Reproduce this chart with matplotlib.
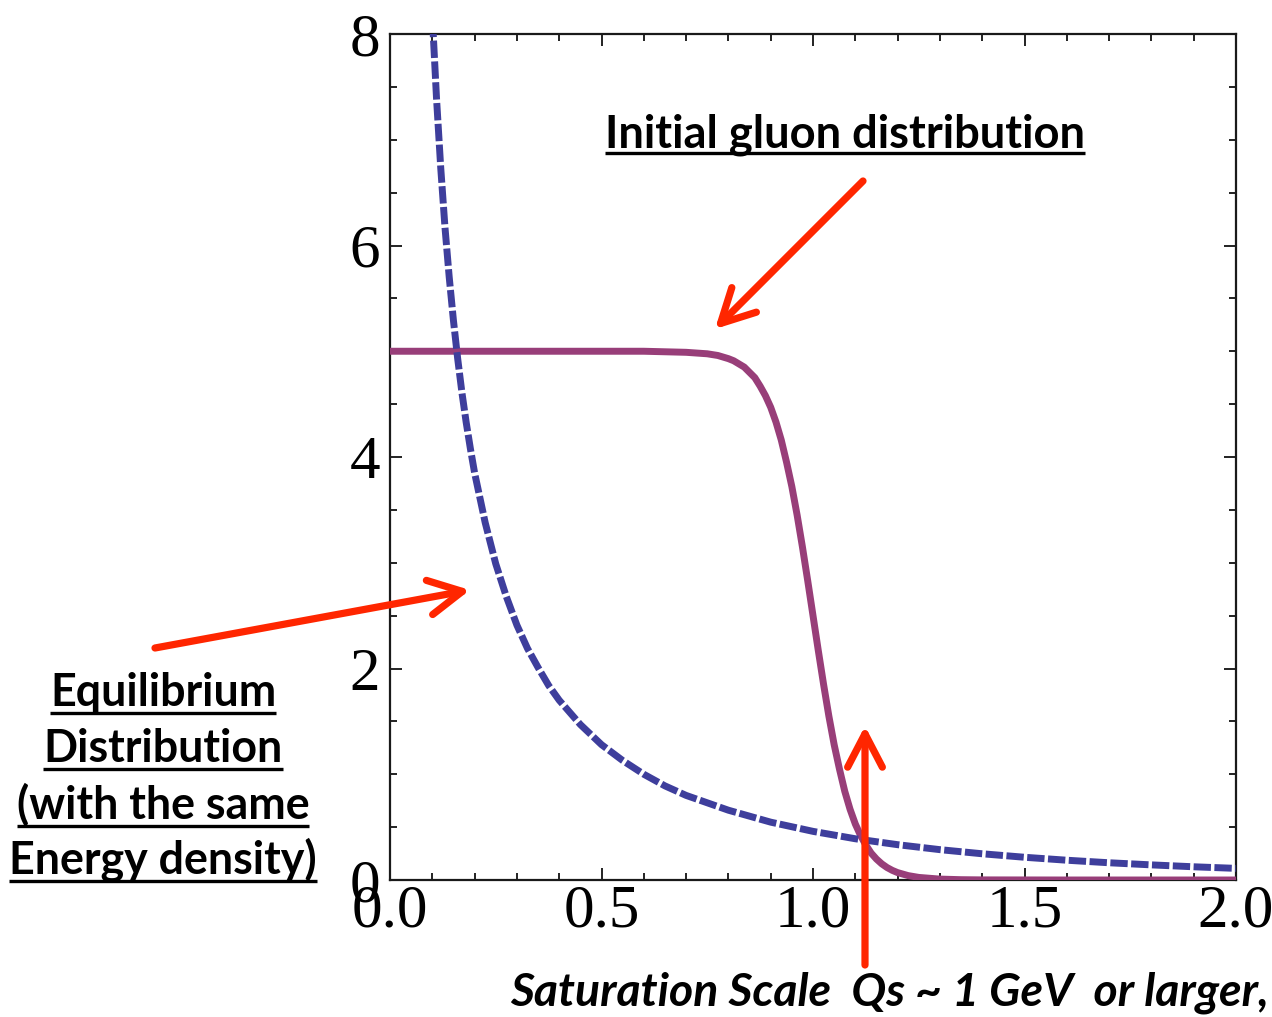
import matplotlib
matplotlib.use("Agg")
import matplotlib.pyplot as plt
from matplotlib.patches import FancyArrowPatch, ArrowStyle
from matplotlib.lines import Line2D
from matplotlib.ticker import MultipleLocator

# initial (saturated) gluon distribution
k_init = [0.0, 0.2, 0.4, 0.6, 0.7, 0.75, 0.775, 0.8, 0.8125, 0.825, 0.8375, 0.85, 0.8625,
          0.875, 0.8875, 0.9, 0.9125, 0.925, 0.9375, 0.95, 0.9625, 0.975, 0.9875, 1.0,
          1.0125, 1.025, 1.0375, 1.05, 1.0625, 1.075, 1.0875, 1.1, 1.1125, 1.125, 1.1375,
          1.15, 1.1625, 1.175, 1.1875, 1.2, 1.225, 1.25, 1.3, 1.35, 1.4, 1.6, 2.0]
f_init = [5.0, 5.0, 5.0, 5.0, 4.99, 4.976, 4.96, 4.93, 4.91, 4.88, 4.85, 4.80, 4.75,
          4.67, 4.58, 4.47, 4.33, 4.16, 3.95, 3.72, 3.45, 3.15, 2.83, 2.50,
          2.17, 1.85, 1.55, 1.28, 1.05, 0.84, 0.67, 0.53, 0.42, 0.33, 0.254,
          0.198, 0.153, 0.118, 0.091, 0.070, 0.0415, 0.0245, 0.0085, 0.003, 0.001, 0.0, 0.0]

# equilibrium distribution with the same energy density
k_eq = [0.09, 0.1, 0.11, 0.12, 0.13, 0.14, 0.15, 0.16, 0.17, 0.18, 0.19, 0.2, 0.225, 0.25,
        0.275, 0.3, 0.325, 0.35, 0.375, 0.4, 0.45, 0.5, 0.55, 0.6, 0.65, 0.7, 0.8, 0.9, 1.0,
        1.1, 1.2, 1.3, 1.4, 1.5, 1.6, 1.7, 1.8, 1.9, 2.0]
f_eq = [9.13, 8.17, 7.39, 6.73, 6.17, 5.70, 5.29, 4.93, 4.61, 4.33, 4.08, 3.85, 3.38, 2.99,
        2.68, 2.41, 2.19, 2.01, 1.84, 1.70, 1.47, 1.28, 1.13, 1.00, 0.89, 0.80, 0.66, 0.547,
        0.46, 0.39, 0.334, 0.287, 0.248, 0.215, 0.187, 0.163, 0.143, 0.125, 0.110]

x_ticks = [0.0, 0.5, 1.0, 1.5, 2.0]
x_tick_labels = ["0.0", "0.5", "1.0", "1.5", "2.0"]
y_ticks = [0, 2, 4, 6, 8]
y_tick_labels = ["0", "2", "4", "6", "8"]

eq_lines = ["Equilibrium", "Distribution", "(with the same", "Energy density)"]

W, H = 1272, 1017
RED = "#ff2600"
SANS = ["Lato", "DejaVu Sans"]

fig = plt.figure(figsize=(W / 100, H / 100), dpi=100)
ax = fig.add_axes([390 / W, 1 - 880 / H, (1236 - 390) / W, (880 - 34) / H])

ax.plot(k_init, f_init, color="#983e79", lw=5, solid_capstyle="butt",
        solid_joinstyle="round", zorder=3)
ax.plot(k_eq, f_eq, color="#3e3e9c", lw=5, ls=(0, (2.5, 0.5)),
        dash_capstyle="butt", zorder=4)

ax.set_xlim(0, 2)
ax.set_ylim(0, 8)
ax.set_xticks(x_ticks, x_tick_labels)
ax.set_yticks(y_ticks, y_tick_labels)
ax.xaxis.set_minor_locator(MultipleLocator(0.1))
ax.yaxis.set_minor_locator(MultipleLocator(0.5))
ax.tick_params(which="both", direction="in", top=True, right=True, width=1.4, color="#222222")
ax.tick_params(which="major", length=8.5, labelsize=44)
ax.tick_params(which="minor", length=5)
ax.tick_params(axis="x", pad=3)
ax.tick_params(axis="y", pad=7)
for lab in ax.get_xticklabels() + ax.get_yticklabels():
    lab.set_fontfamily(["Liberation Serif", "DejaVu Serif"])
for sp in ax.spines.values():
    sp.set_linewidth(1.6)
    sp.set_color("#1a1a1a")

renderer = fig.canvas.get_renderer()


def fitted_size(s, width, style="normal"):
    t = fig.text(0, 0, s, fontsize=30, fontweight="bold", fontstyle=style, family=SANS)
    w = t.get_window_extent(renderer).width
    t.remove()
    return 30 * width / w


def label(cx, base, s, size, style="normal", underline=True, ul_off=6):
    t = fig.text(cx / W, 1 - base / H, s, ha="center", va="baseline", fontsize=size,
                 fontweight="bold", fontstyle=style, family=SANS, color="black")
    if underline:
        bb = t.get_window_extent(renderer)
        yy = 1 - (base + ul_off) / H
        fig.add_artist(Line2D([bb.x0 / W, bb.x1 / W], [yy, yy], transform=fig.transFigure,
                              color="black", lw=2.4, solid_capstyle="butt"))
    return t


size_top = fitted_size("Initial gluon distribution", 480)
label(845, 147, "Initial gluon distribution", size_top)

size_eq = fitted_size(eq_lines[3], 308)
for s, base in zip(eq_lines, [706, 762, 819, 874]):
    label(163, base, s, size_eq, ul_off=7)

size_bot = fitted_size("Saturation Scale  Qs ~ 1 GeV  or larger,", 760, style="italic")
label(890, 1005, "Saturation Scale  Qs ~ 1 GeV  or larger,", size_bot, style="italic",
      underline=False)


def arrow(p0, p1):
    a = FancyArrowPatch((p0[0] / W, 1 - p0[1] / H), (p1[0] / W, 1 - p1[1] / H),
                        transform=fig.transFigure,
                        arrowstyle=ArrowStyle("->", head_length=24, head_width=12.5),
                        mutation_scale=1, lw=5.2, color=RED, shrinkA=0, shrinkB=0,
                        capstyle="round", joinstyle="round")
    fig.add_artist(a)


arrow((863, 181), (715, 329))
arrow((155, 648), (470, 590))
arrow((865, 965), (865, 726))

fig.savefig("out.png", dpi=100)
